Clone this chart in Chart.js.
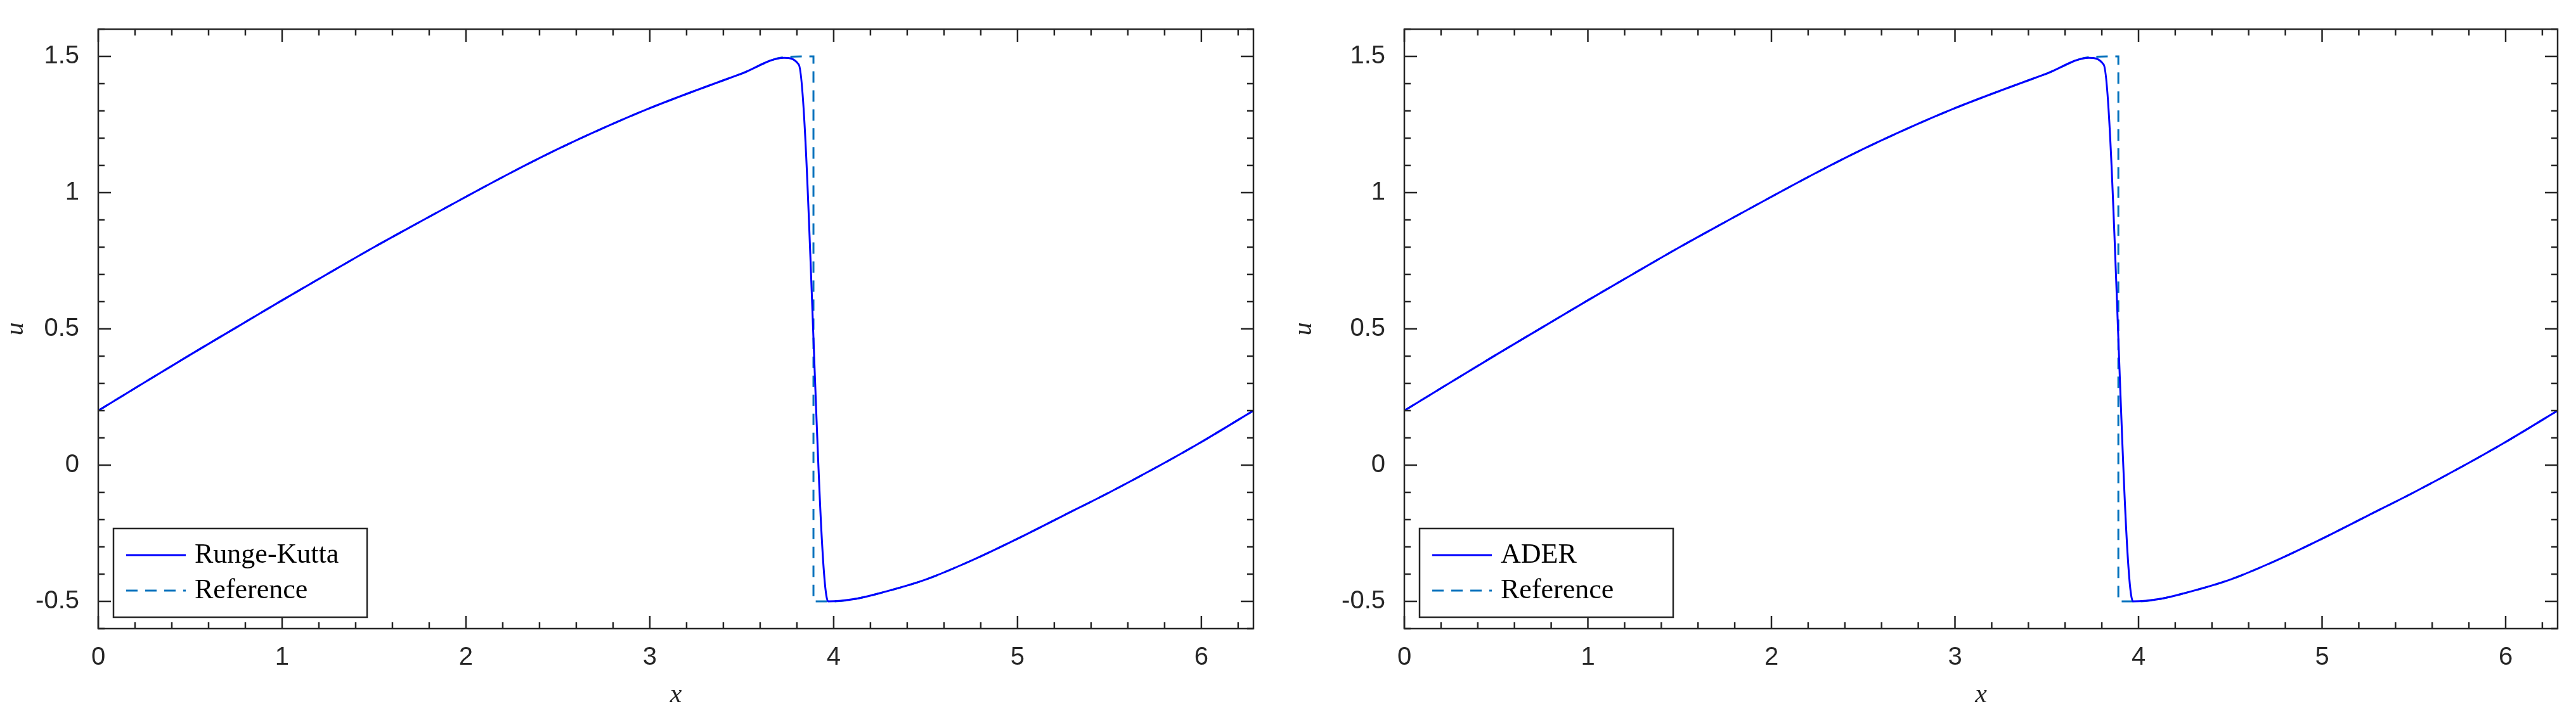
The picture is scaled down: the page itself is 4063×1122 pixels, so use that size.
<!DOCTYPE html>
<html>
<head>
<meta charset="utf-8">
<script src="https://cdn.jsdelivr.net/npm/chart.js@4"></script>
<style>
  body { margin: 0; background: #fff; }
  #wrap { width: 4063px; height: 1122px; position: relative; }
  .box { position: absolute; top: 0; height: 1122px; }
</style>
</head>
<body>
<div id="wrap">
  <div class="box" style="left:0;width:2032px"><canvas id="left"></canvas></div>
  <div class="box" style="left:2032px;width:2031px"><canvas id="right"></canvas></div>
</div>
<script>
// numerical solution (both schemes look the same at this scale)
const numX = [0, 0.25, 0.5, 0.75, 1, 1.25, 1.5, 1.75, 2, 2.25, 2.5, 2.75, 3, 3.25, 3.5, 3.73, 3.81, 3.97, 4.125, 4.25, 4.5, 4.75, 5, 5.25, 5.5, 5.75, 6, 6.283];
const rkU  = [0.2, 0.303, 0.405, 0.505, 0.605, 0.703, 0.8, 0.893, 0.985, 1.075, 1.16, 1.238, 1.31, 1.375, 1.437, 1.495, 1.47, -0.5, -0.49, -0.47, -0.42, -0.35, -0.27, -0.185, -0.1, -0.01, 0.085, 0.2];
const aderU = [0.2, 0.303, 0.405, 0.505, 0.605, 0.703, 0.8, 0.893, 0.985, 1.075, 1.16, 1.238, 1.31, 1.375, 1.437, 1.495, 1.47, -0.5, -0.49, -0.47, -0.42, -0.35, -0.27, -0.185, -0.1, -0.01, 0.085, 0.2];
// exact reference solution
const refX = [0, 0.25, 0.5, 0.75, 1, 1.25, 1.5, 1.75, 2, 2.25, 2.5, 2.75, 3, 3.25, 3.5, 3.73, 3.89, 3.89, 4, 4.125, 4.25, 4.5, 4.75, 5, 5.25, 5.5, 5.75, 6, 6.283];
const refU = [0.2, 0.303, 0.405, 0.505, 0.605, 0.703, 0.8, 0.893, 0.985, 1.075, 1.16, 1.238, 1.31, 1.375, 1.437, 1.497, 1.5, -0.5, -0.5, -0.49, -0.47, -0.42, -0.35, -0.27, -0.185, -0.1, -0.01, 0.085, 0.2];
const xTicks = [0, 1, 2, 3, 4, 5, 6];
const yTicks = [-0.5, 0, 0.5, 1, 1.5];

const pts = (xs, ys) => xs.map((x, i) => ({x: x, y: ys[i]}));
const sans = '"Liberation Sans", Arial, sans-serif';
const serif = '"Liberation Serif", "DejaVu Serif", serif';

const framePlugin = {
  id: 'frame',
  afterDraw(chart) {
    const ctx = chart.ctx, a = chart.chartArea;
    const xs = chart.scales.x, ys = chart.scales.y;
    ctx.save();
    ctx.strokeStyle = '#262626';
    ctx.lineWidth = 2.5;
    ctx.strokeRect(a.left, a.top, a.right - a.left, a.bottom - a.top);
    ctx.beginPath();
    for (let i = 0; i <= 31; i++) {
      const v = i * 0.2;
      if (v > xs.max) break;
      const p = xs.getPixelForValue(v);
      const len = (i % 5 === 0) ? 20 : 10;
      ctx.moveTo(p, a.bottom); ctx.lineTo(p, a.bottom - len);
      ctx.moveTo(p, a.top); ctx.lineTo(p, a.top + len);
    }
    for (let i = -6; i <= 16; i++) {
      const v = i / 10;
      const p = ys.getPixelForValue(v);
      const len = (i % 5 === 0) ? 20 : 10;
      ctx.moveTo(a.left, p); ctx.lineTo(a.left + len, p);
      ctx.moveTo(a.right, p); ctx.lineTo(a.right - len, p);
    }
    ctx.stroke();

    // legend box, lower left inside the axes
    const o = chart.options.plugins.frame;
    const bx = a.left + 24, by = 834, bw = 400, bh = 140;
    ctx.fillStyle = '#fff';
    ctx.fillRect(bx, by, bw, bh);
    ctx.lineWidth = 2.5;
    ctx.strokeRect(bx, by, bw, bh);
    ctx.font = '44px ' + serif;
    ctx.textBaseline = 'middle';
    ctx.fillStyle = '#000';
    const rows = [[o.name, '#0000ff', []], ['Reference', '#0072bd', [18, 12]]];
    rows.forEach((r, i) => {
      const cy = by + 42 + i * 56;
      ctx.strokeStyle = r[1];
      ctx.lineWidth = 3;
      ctx.setLineDash(r[2]);
      ctx.beginPath(); ctx.moveTo(bx + 20, cy); ctx.lineTo(bx + 114, cy); ctx.stroke();
      ctx.setLineDash([]);
      ctx.fillText(r[0], bx + 128, cy);
    });
    ctx.restore();
  }
};

function makeChart(id, name, vals, yWidth, padRight) {
  new Chart(document.getElementById(id), {
    type: 'line',
    data: {
      datasets: [
        { label: name, data: pts(numX, vals), borderColor: '#0000ff', borderWidth: 3, pointRadius: 0, cubicInterpolationMode: 'monotone' },
        { label: 'Reference', data: pts(refX, refU), borderColor: '#0072bd', borderWidth: 3, borderDash: [18, 12], pointRadius: 0, cubicInterpolationMode: 'monotone' }
      ]
    },
    options: {
      responsive: true, maintainAspectRatio: false, animation: false,
      layout: { padding: { top: 41, right: padRight, bottom: 0, left: 0 } },
      plugins: { legend: { display: false }, tooltip: { enabled: false }, frame: { name: name } },
      scales: {
        x: {
          type: 'linear', min: 0, max: 6.2832,
          grid: { display: false }, border: { display: false },
          afterBuildTicks: s => { s.ticks = xTicks.map(v => ({value: v})); },
          afterFit: s => { s.height = 130; },
          ticks: { color: '#262626', font: { family: sans, size: 40 }, padding: 14, callback: v => String(v) },
          title: { display: true, text: 'x', color: '#262626', font: { family: serif, size: 42, style: 'italic' }, padding: 0 }
        },
        y: {
          min: -0.6, max: 1.6,
          grid: { display: false }, border: { display: false },
          afterBuildTicks: s => { s.ticks = yTicks.map(v => ({value: v})); },
          afterFit: s => { s.width = yWidth; },
          ticks: { color: '#262626', font: { family: sans, size: 40 }, padding: 22, callback: v => String(v) },
          title: { display: true, text: 'u', color: '#262626', font: { family: serif, size: 42, style: 'italic' }, padding: 0 }
        }
      }
    },
    plugins: [framePlugin]
  });
}

makeChart('left', 'Runge-Kutta', rkU, 155, 55);
makeChart('right', 'ADER', aderU, 183, 29);
</script>
</body>
</html>
